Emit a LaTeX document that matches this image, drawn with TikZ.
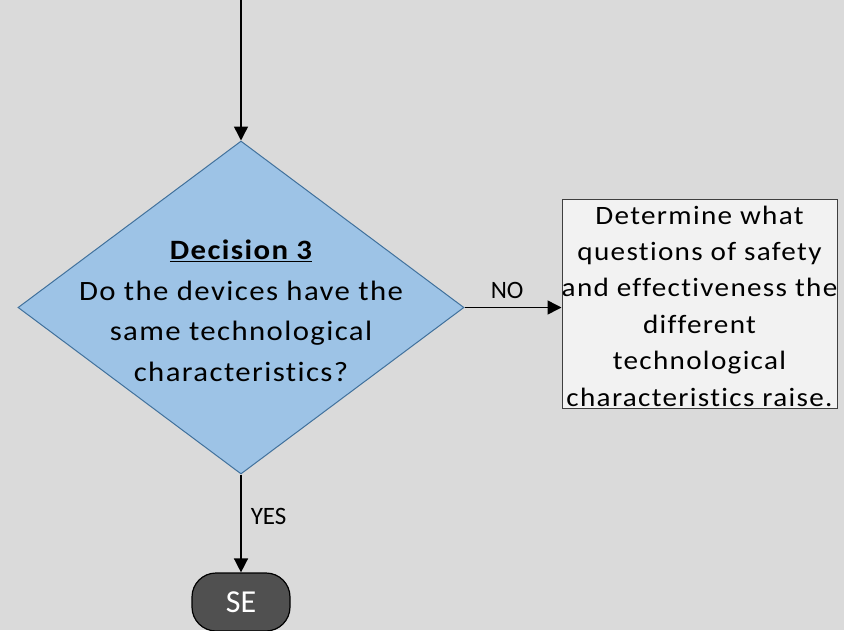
\documentclass[tikz,border=0pt]{standalone}
\usepackage{fontspec}
\setmainfont{Carlito}
\newfontfamily\spacedface[FakeStretch=1.1,LetterSpace=5,Ligatures={NoCommon,NoRare,NoContextual}]{Carlito}
\usetikzlibrary{arrows.meta,shapes.geometric}
\definecolor{bgcol}{HTML}{DADADA}
\definecolor{decfill}{HTML}{9DC3E6}
\definecolor{decedge}{HTML}{41719C}
\definecolor{procfill}{HTML}{F2F2F2}
\definecolor{procedge}{HTML}{3F3F3F}
\definecolor{termfill}{HTML}{505050}
\begin{document}
\begin{tikzpicture}[x=1pt,y=-1pt,
  flow/.style={line width=1.5pt,-{Triangle[length=14pt,width=14pt]}},
  decisionbox/.style={diamond,draw=decedge,fill=decfill,line width=1pt,
    minimum width=446pt,minimum height=333pt,inner sep=0pt},
  processbox/.style={rectangle,draw=procedge,fill=procfill,line width=1pt,
    minimum width=275pt,minimum height=209pt,inner sep=0pt},
  terminalbox/.style={rectangle,rounded corners=24pt,draw=black,fill=termfill,
    line width=1.2pt,minimum width=98pt,minimum height=58pt,inner sep=0pt,
    text=white,font=\fontsize{32}{38}\selectfont},
  edgelabel/.style={font=\fontsize{25}{30}\selectfont,inner sep=0pt}
]
\fill[bgcol] (0,0) rectangle (844,630);
\useasboundingbox (0,0) rectangle (844,630);

% shapes
\coordinate (start) at (241,0);
\node[decisionbox] (dec) at (241,307.5) {};
\node[align=center,font=\spacedface\fontsize{28}{40.5}\selectfont]
  (dectext) at (241,311)
  {\textbf{\underline{Decision 3}}\\Do the devices have the\\same technological\\characteristics?};
\node[processbox] (proc) at (699.5,303.5) {};
\node[align=center,font=\spacedface\fontsize{26.5}{36.4}\selectfont]
  (proctext) at (699.5,306)
  {Determine what\\questions of safety\\and effectiveness the\\different\\technological\\characteristics raise.};
\node[terminalbox] (se) at (241,602) {SE};

% connectors
\draw[flow] (start) -- (dec.north);
\draw[flow] (dec.east) -- (dec.east -| proc.west)
  node[edgelabel,pos=0.44,anchor=base,yshift=9pt] {NO};
\draw[flow] (dec.south) -- (se.north)
  node[edgelabel,pos=0.51,anchor=base west,xshift=9pt] {YES};
\end{tikzpicture}
\end{document}
